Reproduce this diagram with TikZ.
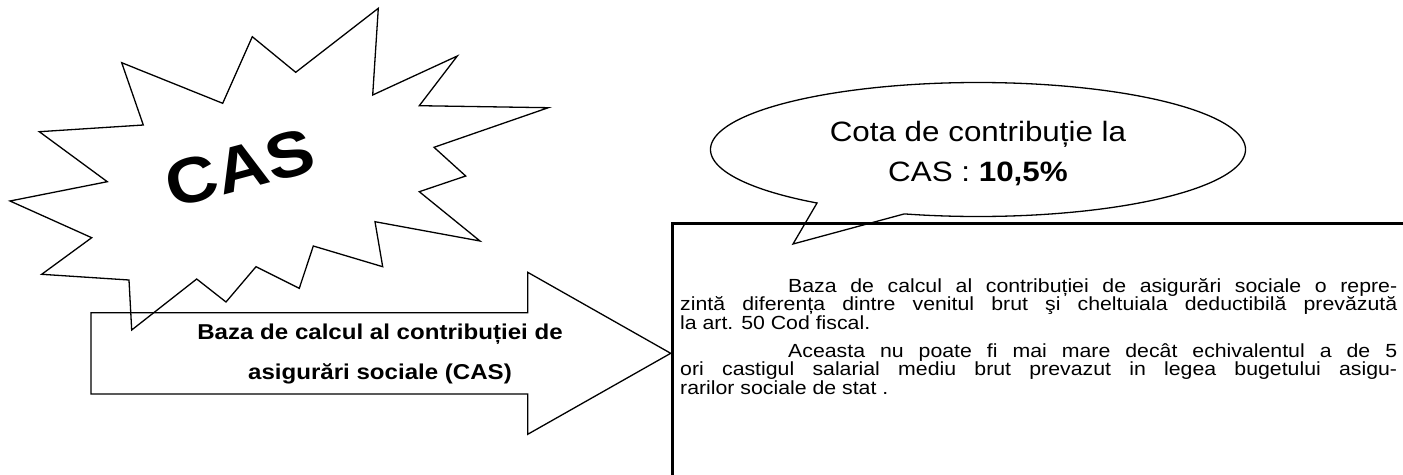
\documentclass[tikz,border=0pt]{standalone}
\usepackage{fontspec}
\setmainfont{Liberation Sans}
\newfontfamily\widesans[FakeStretch=1.12]{Liberation Sans}
\usetikzlibrary{calc}
\tikzset{
  outline/.style={draw=black, line width=1.3pt, line join=miter},
  boxline/.style={draw=black, line width=3.5pt},
  txt/.style={inner sep=0pt, anchor=base}
}
\begin{document}
\begin{tikzpicture}[x=1pt,y=-1pt]
\useasboundingbox (0,0) rectangle (1403,474);
% starburst
\draw[outline] (378.3,8.3) -- (372.7,95) -- (457.3,56) -- (419.3,105.7) -- (548.3,107.7)
  -- (434,147.3) -- (465.7,176) -- (419.3,191.7) -- (480,241) -- (375,221.7)
  -- (382.7,266.7) -- (313.3,246) -- (299.3,288.3) -- (256,266.7) -- (226,302)
  -- (196.7,279) -- (131.7,330) -- (129,280) -- (41.7,274.3) -- (91.7,237.7)
  -- (10,201) -- (107.3,181.7) -- (39.3,131.7) -- (143.3,125) -- (121.7,62.7)
  -- (222.7,103.3) -- (252.3,36.7) -- (295.7,72.3) -- cycle;
\node[rotate=15, inner sep=0pt, font=\widesans\bfseries\fontsize{64}{70}\selectfont] (cas) at (240,168) {CAS};
% arrow
\draw[outline] (91,312.7) -- (527.7,312.7) -- (527.7,272.3) -- (670.7,353.3)
  -- (527.7,434.3) -- (527.7,394) -- (91,394) -- cycle;
\node[txt] (arrowtext) at (380,339) {\parbox[t]{520pt}{\centering\widesans\bfseries\fontsize{21.5}{40.3}\selectfont
  Baza de calcul al contribuției de\\ asigurări sociale (CAS)}};
% callout
\coordinate (tip) at (793,244);
\draw[outline] plot[domain=127:466, samples=400] ({978+267.5*cos(\x)},{149.5+67*sin(\x)}) -- (tip) -- cycle;
\node[txt] (cota) at (978,141.7) {\parbox[t]{520pt}{\centering\widesans\fontsize{28}{40}\selectfont
  Cota de contribuție la\\ CAS : \textbf{10,5\%}}};
% text box
\coordinate (boxtr) at (1410,223.3);
\coordinate (boxtl) at (672.3,223.3);
\coordinate (boxbl) at (672.3,480);
\draw[boxline] (boxtr) -- (boxtl) -- (boxbl);
\node[inner sep=0pt, anchor=base west] (body) at (680,292) {\parbox[t]{717pt}{%
  \widesans\fontsize{19}{18.5}\selectfont
  \setlength\parindent{108pt}\setlength\parskip{9.5pt}\tolerance=10000
  Baza de calcul al contribuției de asigurări sociale o repre-\linebreak
  zintă diferența dintre venitul brut şi cheltuiala deductibilă prevăzută\linebreak
  la art. 50 Cod fiscal.\par
  Aceasta nu poate fi mai mare decât echivalentul a de 5\linebreak
  ori castigul salarial mediu brut prevazut in legea bugetului asigu-\linebreak
  rarilor sociale de stat .\par}};
\end{tikzpicture}
\end{document}
